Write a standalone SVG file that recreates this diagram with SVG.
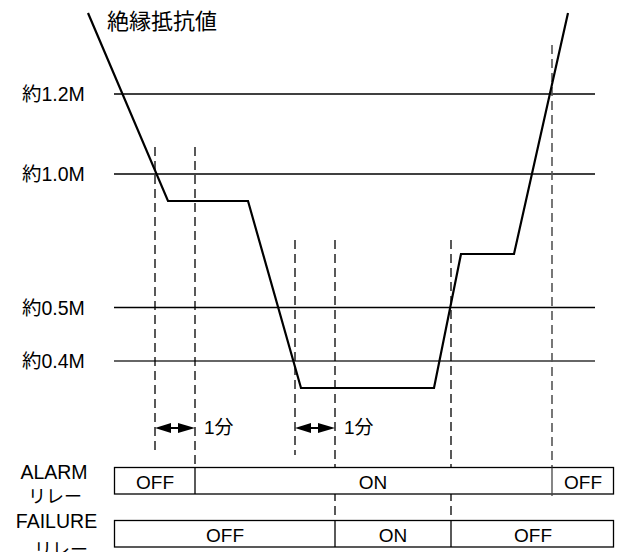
<svg xmlns="http://www.w3.org/2000/svg" width="621" height="552" viewBox="0 0 621 552">
<style>
.t{font-family:"Liberation Sans","Noto Sans CJK JP",sans-serif;fill:#000}
.j{font-family:"Noto Sans CJK JP","Liberation Sans",sans-serif;fill:#000}
.lvl{stroke:#000;stroke-width:1.3;fill:none}
.dash{stroke:#000;stroke-width:1.3;stroke-dasharray:9 5;fill:none}
.box{fill:#fff;stroke:#000;stroke-width:1.3}
.div{stroke:#000;stroke-width:1.3}
.curve{fill:none;stroke:#000;stroke-width:2.2;stroke-linejoin:miter}
.ah{fill:#000}
</style>
<rect width="621" height="552" fill="#fff"/>
<g id="levels">
<line class="lvl" x1="114" y1="94" x2="595" y2="94"/>
<line class="lvl" x1="114" y1="174" x2="595" y2="174"/>
<line class="lvl" x1="114" y1="307.5" x2="595" y2="307.5"/>
<line class="lvl" x1="114" y1="361" x2="595" y2="361" style="stroke:#333"/>
</g>
<g id="level-labels">
<text class="t" x="22" y="101" font-size="19.5">約1.2M</text>
<text class="t" x="22" y="181" font-size="19.5">約1.0M</text>
<text class="t" x="22" y="315" font-size="19.5">約0.5M</text>
<text class="t" x="22" y="368" font-size="19.5">約0.4M</text>
</g>
<g id="connectors">
<line class="dash" x1="155" y1="147" x2="155" y2="455"/>
<line class="dash" x1="195" y1="147" x2="195" y2="467"/>
<line class="dash" x1="295" y1="240" x2="295" y2="455"/>
<line class="dash" x1="335" y1="240" x2="335" y2="520"/>
<line class="dash" x1="451" y1="240" x2="451" y2="520"/>
<line class="dash" x1="552" y1="45" x2="552" y2="467" style="stroke:#555;stroke-width:1.6"/>
</g>
<g id="curve">
<polyline class="curve" points="88,13 168,201 248,201 301,388 434,388 461,254 514,254 568,13"/>
</g>
<g id="title">
<text class="j" x="107" y="29" font-size="22">絶縁抵抗値</text>
</g>
<g id="delay1">
<polygon class="ah" points="155,428 171,423 171,433"/>
<polygon class="ah" points="195,428 178,423 178,433"/>
<line x1="170" y1="428" x2="179" y2="428" stroke="#000" stroke-width="2"/>
<text class="t" x="204" y="434" font-size="19">1分</text>
</g>
<g id="delay2">
<polygon class="ah" points="295,428 311,423 311,433"/>
<polygon class="ah" points="335,428 318,423 318,433"/>
<line x1="310" y1="428" x2="319" y2="428" stroke="#000" stroke-width="2"/>
<text class="t" x="344" y="434" font-size="19">1分</text>
</g>
<g id="alarm-relay">
<rect class="box" x="114.5" y="467.5" width="499" height="26.5"/>
<line class="div" x1="195" y1="467.5" x2="195" y2="494"/>
<line class="div" x1="552" y1="467.5" x2="552" y2="496" style="stroke:#444"/>
<text class="t" x="155" y="488.5" font-size="19" text-anchor="middle">OFF</text>
<text class="t" x="373" y="488.5" font-size="19" text-anchor="middle">ON</text>
<text class="t" x="583" y="488.5" font-size="19" text-anchor="middle">OFF</text>
<text class="t" x="54" y="479" font-size="19.5" text-anchor="middle">ALARM</text>
<text class="j" x="55" y="503" font-size="18" text-anchor="middle">リレー</text>
</g>
<g id="failure-relay">
<rect class="box" x="114.5" y="520.5" width="499" height="26.5"/>
<line class="div" x1="335" y1="520.5" x2="335" y2="547"/>
<line class="div" x1="451" y1="520.5" x2="451" y2="547"/>
<text class="t" x="225" y="541.5" font-size="19" text-anchor="middle">OFF</text>
<text class="t" x="393" y="541.5" font-size="19" text-anchor="middle">ON</text>
<text class="t" x="533" y="541.5" font-size="19" text-anchor="middle">OFF</text>
<text class="t" x="56.5" y="527.5" font-size="19.5" text-anchor="middle">FAILURE</text>
<text class="j" x="61" y="556" font-size="18" text-anchor="middle">リレー</text>
</g>
</svg>
